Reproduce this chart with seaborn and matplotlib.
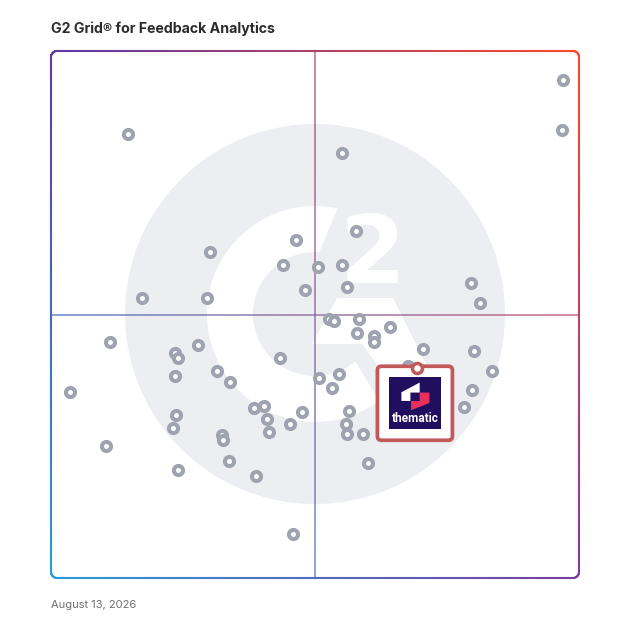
import numpy as np
import seaborn as sns
import matplotlib.pyplot as plt
import matplotlib.colors as mcolors
from matplotlib import patches, transforms
from matplotlib.collections import LineCollection

# product positions on the grid, 0-100 on both axes
# x = satisfaction, y = market presence
satisfaction = [
    97.0, 96.8, 14.6, 55.1, 57.8, 46.4, 30.1, 43.9, 50.6, 55.1,
    79.5, 56.1, 48.1, 17.2, 29.5, 81.3, 52.7, 53.6, 58.3, 64.2,
    58.0, 61.2, 61.2, 11.2, 23.5, 24.1, 27.8, 70.5, 80.1, 43.4,
    67.6, 83.5, 31.4, 23.5, 33.9, 54.5, 50.8, 53.2, 3.6, 79.7,
    78.2, 38.4, 40.3, 47.5, 56.4, 23.7, 40.9, 23.1, 45.3, 55.9,
    56.1, 59.1, 32.4, 32.6, 41.3, 10.4, 33.7, 60.0, 24.1, 38.8,
    45.8,
]
presence = [
    94.5, 85.0, 84.3, 80.6, 65.8, 64.1, 61.9, 59.4, 59.0, 59.4,
    56.0, 55.2, 54.6, 53.1, 53.1, 52.2, 49.1, 48.8, 49.1, 47.6,
    46.5, 45.9, 44.8, 44.8, 42.7, 41.7, 44.2, 43.5, 43.1, 41.7,
    40.2, 39.3, 39.3, 38.3, 37.2, 38.7, 38.0, 36.1, 35.3, 35.7,
    32.4, 32.3, 32.6, 31.5, 31.7, 30.9, 30.2, 28.5, 29.2, 29.2,
    27.3, 27.3, 27.1, 26.2, 27.7, 25.0, 22.2, 21.8, 20.5, 19.4,
    8.3,
]
highlight_name = "thematic"
highlight_sat = [69.3]
highlight_pres = [39.8]

TITLE = "G2 Grid® for Feedback Analytics"
DATE = "August 13, 2026"

# corner colours of the grid gradient
C_TL = np.array(mcolors.to_rgb("#5b3aa8"))
C_TR = np.array(mcolors.to_rgb("#ff4a2a"))
C_BL = np.array(mcolors.to_rgb("#2a9bd9"))
C_BR = np.array(mcolors.to_rgb("#7a3ea0"))
CARD_RED = "#c25a5c"
NAVY = "#200f5e"
DOT = "#9ea3af"
LOGO_GREY = "#eceef1"


def grad(u, v):
    top = C_TL * (1 - u) + C_TR * u
    bot = C_BL * (1 - u) + C_BR * u
    return bot * (1 - v) + top * v


def densify(pts, step=1.5):
    out = [pts[0]]
    for p, q in zip(pts[:-1], pts[1:]):
        n = max(1, int(np.hypot(*(q - p)) / step))
        for t in np.linspace(0, 1, n + 1)[1:]:
            out.append(p + (q - p) * t)
    return np.array(out)


def rounded_rect(x0, y0, x1, y1, r):
    pts = []
    for cx, cy, a0 in [(x1 - r, y0 + r, -90), (x1 - r, y1 - r, 0),
                       (x0 + r, y1 - r, 90), (x0 + r, y0 + r, 180)]:
        a = np.radians(np.linspace(a0, a0 + 90, 12))
        pts += list(zip(cx + r * np.cos(a), cy + r * np.sin(a)))
    pts.append(pts[0])
    return np.array(pts)


sns.set_style("white")
plt.rcParams["font.family"] = ["Inter", "DejaVu Sans"]

fig = plt.figure(figsize=(6.28, 6.28), dpi=100)
W = H = 628
X0, X1, Y0, Y1 = 51, 579, 51, 578  # grid frame in pixels (y down)

# background logo layer
bg = fig.add_axes([0, 0, 1, 1], zorder=0)
bg.set_xlim(0, W)
bg.set_ylim(H, 0)
bg.axis("off")
cx, cy = 315, 314
bg.add_patch(patches.Circle((cx, cy), 190, fc=LOGO_GREY, ec="none"))
ro, ri = 108, 62
a_out = np.radians(np.linspace(78, 306.5, 120))
a_in = np.radians(np.linspace(86, 310.4, 120))[::-1]
ring = np.vstack([
    np.column_stack([cx + ro * np.cos(a_out), cy - ro * np.sin(a_out)]),
    np.column_stack([cx + ri * np.cos(a_in), cy - ri * np.sin(a_in)]),
])
bg.add_patch(patches.Polygon(ring, closed=True, fc="white", ec="none"))
bar = [(337, 298), (393, 298), (432, 376), (398, 392), (362, 344), (312, 344)]
bg.add_patch(patches.Polygon(bar, closed=True, fc="white", ec="none"))
bg.text(372, 283, "2", fontsize=68, fontweight="bold", color="white",
        ha="center", va="baseline", family="DejaVu Sans")

# data layer
ax = fig.add_axes([X0 / W, 1 - Y1 / H, (X1 - X0) / W, (Y1 - Y0) / H], zorder=1)
ax.set_xlim(0, 100)
ax.set_ylim(0, 100)
ax.set_facecolor("none")
ax.axis("off")

# quadrant lines with the grid gradient
segs, cols = [], []
for t0, t1 in zip(np.linspace(0, 100, 201)[:-1], np.linspace(0, 100, 201)[1:]):
    segs.append([(t0, 50), (t1, 50)])
    cols.append(grad((t0 + t1) / 200, 0.5))
    segs.append([(50, t0), (50, t1)])
    cols.append(grad(0.5, (t0 + t1) / 200))
ax.add_collection(LineCollection(segs, colors=cols, linewidths=1.1, alpha=0.8,
                                 capstyle="butt", zorder=1))

sns.scatterplot(x=satisfaction, y=presence, ax=ax, s=43, marker="o",
                color="white", edgecolor=DOT, linewidth=2.9, zorder=3,
                legend=False)

# highlighted product card, offsets in pixels from its point (y down)
off = transforms.ScaledTranslation(highlight_sat[0], highlight_pres[0], ax.transData)
tr = transforms.Affine2D().scale(1, -1) + off
ax.add_patch(patches.FancyBboxPatch((-39.5, -2), 75, 74,
                                    boxstyle="round,pad=0,rounding_size=4",
                                    fc="white", ec=CARD_RED, lw=2.7,
                                    transform=tr, zorder=5, clip_on=False))
ax.add_patch(patches.Rectangle((-27.5, 9), 52, 52, fc=NAVY, ec="none",
                               transform=tr, zorder=6, clip_on=False))
white_icon = [(-15.5, 24), (2.8, 14.3), (2.8, 24.3), (-6.5, 24.3),
              (-6.5, 32.7), (-15.5, 32.7)]
red_icon = [(2.8, 24.3), (12.5, 24.3), (12.5, 34.7), (-5.8, 42),
            (-5.8, 32.7), (2.8, 32.7)]
ax.add_patch(patches.Polygon(white_icon, fc="white", ec="none",
                             transform=tr, zorder=7, clip_on=False))
ax.add_patch(patches.Polygon(red_icon, fc="#e8305a", ec="none",
                             transform=tr, zorder=7, clip_on=False))
ax.text(-1.7, 50.5, highlight_name, transform=tr, color="white",
        fontsize=8.6, fontweight="bold", ha="center", va="center",
        family=["Roboto", "DejaVu Sans"], zorder=8)
ax.scatter(highlight_sat, highlight_pres, s=52, marker="o", color="white",
           edgecolor=CARD_RED, linewidth=2.5, zorder=9, clip_on=False)

# foreground: frame and texts
fg = fig.add_axes([0, 0, 1, 1], zorder=2)
fg.set_xlim(0, W)
fg.set_ylim(H, 0)
fg.set_facecolor("none")
fg.axis("off")
frame = densify(rounded_rect(X0, Y0, X1, Y1, 6))
fsegs = np.stack([frame[:-1], frame[1:]], axis=1)
mids = fsegs.mean(axis=1)
fcols = [grad((mx - X0) / (X1 - X0), (Y1 - my) / (Y1 - Y0)) for mx, my in mids]
fg.add_collection(LineCollection(fsegs, colors=fcols, linewidths=1.5,
                                 capstyle="round"))

fg.text(X0, 33, TITLE, fontsize=10.2, fontweight="bold", color="#2b2b2b",
        ha="left", va="baseline")
fg.text(X0, 608, DATE, fontsize=8, color="#707070", ha="left", va="baseline")

fig.savefig("out.png", dpi=100)
plt.close(fig)
